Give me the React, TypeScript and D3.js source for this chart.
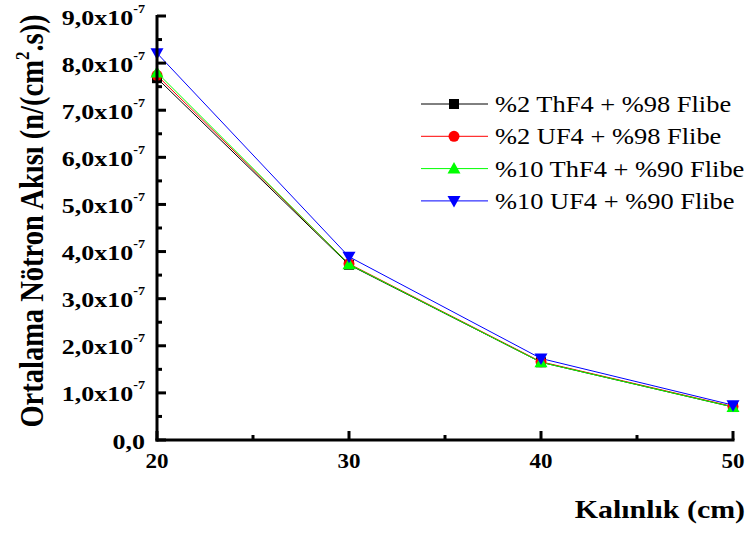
import React from "react";
import * as d3 from "d3";

const thickness = [20, 30, 40, 50];
const seriesNames = [
  "%2 ThF4 + %98 Flibe",
  "%2 UF4 + %98 Flibe",
  "%10 ThF4 + %90 Flibe",
  "%10 UF4 + %90 Flibe",
];
const thf4_2 = [7.68e-7, 3.72e-7, 1.65e-7, 0.7e-7];
const uf4_2 = [7.74e-7, 3.74e-7, 1.66e-7, 0.71e-7];
const thf4_10 = [7.8e-7, 3.73e-7, 1.65e-7, 0.7e-7];
const uf4_10 = [8.21e-7, 3.89e-7, 1.73e-7, 0.74e-7];
const seriesValues = [thf4_2, uf4_2, thf4_10, uf4_10];
const colors = ["#000000", "#ff0000", "#00ff00", "#0000ff"];
const markers = ["square", "circle", "triangle", "triangleDown"];
const yTicks = [0, 1e-7, 2e-7, 3e-7, 4e-7, 5e-7, 6e-7, 7e-7, 8e-7, 9e-7];
const xTicks = [20, 30, 40, 50];

const x0 = 157, x1 = 733, yTop = 16, yBot = 440;
const SX = 1.15;
const SXT = 1.18;

function Marker({ type, cx, cy, color }: { type: string; cx: number; cy: number; color: string }) {
  if (type === "square") return <rect x={cx - 5} y={cy - 5} width={10} height={10} fill={color} />;
  if (type === "circle") return <circle cx={cx} cy={cy} r={5.5} fill={color} />;
  if (type === "triangle")
    return <path d={`M${cx},${cy - 6.5}L${cx + 6.5},${cy + 5}L${cx - 6.5},${cy + 5}Z`} fill={color} />;
  return <path d={`M${cx},${cy + 6.5}L${cx + 6.5},${cy - 5}L${cx - 6.5},${cy - 5}Z`} fill={color} />;
}

export default function App() {
  const x = d3.scaleLinear().domain([20, 50]).range([x0, x1]);
  const y = d3.scaleLinear().domain([0, 9e-7]).range([yBot, yTop]);
  const line = d3
    .line<number>()
    .x((_, i) => x(thickness[i]))
    .y((d) => y(d));
  const yMinor = d3.range(0, 9).map((i) => (i + 0.5) * 1e-7);
  const xMinor = [25, 35, 45];
  const font = "'Liberation Serif', 'Times New Roman', serif";
  return (
    <svg width={749} height={533} style={{ position: "absolute", left: 0, top: 0 }} fontFamily={font}>
      <rect width={749} height={533} fill="#fff" />
      {seriesValues.map((vals, si) => (
        <path key={si} d={line(vals) || ""} fill="none" stroke={colors[si]} strokeWidth={1} />
      ))}
      {seriesValues.map((vals, si) =>
        vals.map((v, i) => (
          <Marker key={`${si}-${i}`} type={markers[si]} cx={x(thickness[i])} cy={y(v)} color={colors[si]} />
        ))
      )}
      {/* axes */}
      <line x1={x0} x2={x0} y1={yTop - 1} y2={yBot + 1.5} stroke="#000" strokeWidth={3} />
      <line x1={x0 - 1.5} x2={x1 + 1.5} y1={yBot} y2={yBot} stroke="#000" strokeWidth={3} />
      {yTicks.map((t) => (
        <line key={t} x1={x0} x2={x0 + 9} y1={y(t)} y2={y(t)} stroke="#000" strokeWidth={3} />
      ))}
      {yMinor.map((t) => (
        <line key={t} x1={x0} x2={x0 + 5} y1={y(t)} y2={y(t)} stroke="#000" strokeWidth={3} />
      ))}
      {xTicks.map((t) => (
        <line key={t} x1={x(t)} x2={x(t)} y1={yBot} y2={yBot - 9} stroke="#000" strokeWidth={3} />
      ))}
      {xMinor.map((t) => (
        <line key={t} x1={x(t)} x2={x(t)} y1={yBot} y2={yBot - 5} stroke="#000" strokeWidth={3} />
      ))}
      {yTicks.map((t, i) => (
        <g key={t} transform={`translate(145,${y(t) + 8.5}) scale(${SXT},1)`}>
          <text x={0} y={0} textAnchor="end" fontSize={22} fontWeight="bold">
            {i === 0 ? (
              "0,0"
            ) : (
              <>
                {`${i},0x10`}
                <tspan fontSize={12} dy={-12}>-7</tspan>
              </>
            )}
          </text>
        </g>
      ))}
      {xTicks.map((t) => (
        <g key={t} transform={`translate(${x(t)},468) scale(${SX},1)`}>
          <text x={0} y={0} textAnchor="middle" fontSize={20} fontWeight="bold">
            {t}
          </text>
        </g>
      ))}
      <g transform={`translate(43,221) scale(${SX},1) rotate(-90)`}>
        <text x={0} y={0} textAnchor="middle" fontSize={28.5} fontWeight="bold">
          Ortalama Nötron Akısı (n/(cm<tspan fontSize={17} dy={-12}>2</tspan>
          <tspan dy={12}>.s))</tspan>
        </text>
      </g>
      <g transform={`translate(745,518) scale(${SX},1)`}>
        <text x={0} y={0} textAnchor="end" fontSize={26} fontWeight="bold">
          Kalınlık (cm)
        </text>
      </g>
      {seriesNames.map((name, i) => {
        const ly = 104 + i * 32.3;
        return (
          <g key={name}>
            <line x1={421} x2={488} y1={ly} y2={ly} stroke={colors[i]} strokeWidth={1} />
            <Marker type={markers[i]} cx={454} cy={ly} color={colors[i]} />
            <g transform={`translate(495,${ly + 8}) scale(${SX},1)`}>
              <text x={0} y={0} fontSize={23}>
                {name}
              </text>
            </g>
          </g>
        );
      })}
    </svg>
  );
}
